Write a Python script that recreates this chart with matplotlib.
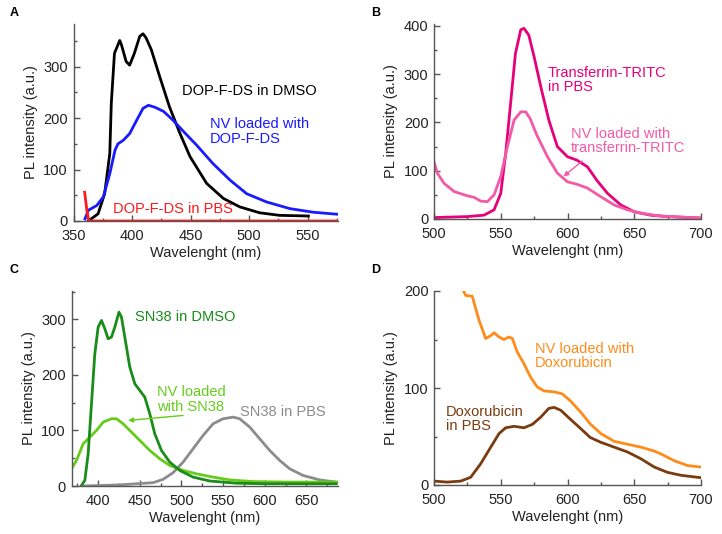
import matplotlib
matplotlib.use("Agg")
import matplotlib.pyplot as plt
from matplotlib.ticker import MultipleLocator

plt.rcParams['font.family'] = ['Liberation Sans', 'DejaVu Sans']
plt.rcParams['font.size'] = 10

# ---------------- Panel A ----------------
a_dmso_x = [362.7, 371, 376.6, 381, 382.3, 385, 389.5, 390.9, 395, 398, 402, 406.6, 409.4, 412,
            416.5, 423.6, 432, 441, 449.6, 463.8, 478, 492, 509, 526, 550.7]
a_dmso_y = [0, 14, 53, 131, 229, 326, 351, 343, 310, 303, 326, 359, 364, 356,
            333, 281, 222, 170, 125, 73, 44, 27.5, 16, 11, 9.7]
a_nv_x = [359.8, 362.7, 369.8, 375.5, 381, 385.5, 388, 392.6, 398, 404, 409.4, 414, 419.7, 427,
          435, 444, 455, 469, 484, 498, 515, 535, 555, 576]
a_nv_y = [4, 21, 30, 47, 92, 138, 150, 157, 170, 196, 219, 225, 221, 213,
          196, 174, 148, 112, 79, 53, 37, 24, 17, 13]
a_pbs_x = [359.5, 361.5, 363, 400, 450, 500, 550, 576]
a_pbs_y = [56, 20, 0, 0, 0, 0, 0, 0]

# ---------------- Panel B ----------------
b_pbs_x = [500, 525, 537.5, 545, 550, 553.7, 557.4, 561, 565, 567.4, 571, 575, 580, 586, 592.4,
           600, 607, 615, 622, 630, 640, 650, 662, 675, 700]
b_pbs_y = [3, 5, 8, 19, 53, 136, 240, 343, 392, 395, 381, 336, 274, 205, 150,
           129, 122, 108, 80, 53, 29, 15, 8, 5, 2]
b_nv_x = [500, 502.5, 507.5, 515, 525, 530, 535, 540, 545, 550, 555, 560, 565, 568.7, 572, 577,
          585, 592.4, 600, 607, 615, 625, 635, 645, 655, 670, 700]
b_nv_y = [119, 95, 74, 57, 48, 45, 37, 36, 50, 88, 150, 205, 222, 222, 208, 174,
          129, 95, 77, 72, 64, 46, 29, 19, 12, 6, 2]

# ---------------- Panel C ----------------
c_dmso_x = [380, 384, 388, 392, 396, 400, 404, 408, 412, 416, 420, 425, 428, 432, 438, 444, 450,
            456, 462, 468, 476, 486, 498, 514, 534, 566, 606, 686]
c_dmso_y = [1, 10, 58, 148, 238, 286, 298, 283, 265, 268, 286, 313, 304, 268, 214, 184, 172,
            160, 130, 94, 64, 43, 28, 16, 9, 5, 4, 4]
c_nv_x = [368, 374, 382, 390, 398, 406, 416, 422, 430, 438, 450, 462, 474, 486, 502, 518, 538,
          558, 586, 626, 686]
c_nv_y = [31, 46, 76, 88, 100, 115, 121, 121, 112, 100, 82, 64, 49, 37, 28, 22, 16,
          11, 8, 7, 7]
c_pbs_x = [382, 426, 466, 478, 490, 502, 514, 526, 538, 550, 562, 570, 582, 594, 606, 618, 630,
           646, 666, 686]
c_pbs_y = [0, 2, 6, 12, 24, 43, 67, 91, 112, 121, 124, 121, 106, 85, 64, 46, 31,
           19, 11, 7]

# ---------------- Panel D ----------------
d_nv_x = [521.5, 523.7, 528.7, 531, 533.7, 538.7, 542.5, 545, 548.7, 552.4, 556, 558.7, 562.4,
          567.4, 572.4, 577.4, 582.4, 590, 596, 602, 610, 617, 625, 635, 645, 655, 665, 670,
          680, 690, 700]
d_nv_y = [202, 195.5, 194.5, 183, 170, 151, 154, 157, 152.6, 150, 152.6, 151, 137,
          125, 111, 101, 97, 96, 94, 87, 75, 63, 53, 45, 42, 39, 35, 32,
          25, 20, 18.5]
d_pbs_x = [500, 510, 520, 527.5, 535, 542.5, 548.7, 553.7, 560, 567.4, 573.7, 580, 586, 590, 595,
           602, 610, 617, 625, 635, 645, 655, 665, 675, 685, 700]
d_pbs_y = [4, 3, 4, 8, 22, 39, 53, 59, 60.5, 59, 62.5, 70, 79, 80, 77,
           68, 58, 49, 44, 39, 34, 27, 18.5, 13, 10, 7.5]

col_black = '#000000'
col_blue = '#1a1aff'
col_red = '#ff1a1a'
col_pink_dark = '#e8007a'
col_pink_light = '#f25aa8'
col_green_dark = '#1a8c1a'
col_green_light = '#66cc1a'
col_gray = '#8c8c8c'
col_orange = '#ff8c1a'
col_brown = '#7a3c0e'

fig = plt.figure(figsize=(7.22, 5.34), dpi=100)
W, H = 722, 534


def make_ax(l, t, r, b):
    ax = fig.add_axes([l / W, 1 - b / H, (r - l) / W, (b - t) / H])
    for s in ['top', 'right']:
        ax.spines[s].set_visible(False)
    for s in ['left', 'bottom']:
        ax.spines[s].set_color('#555555')
        ax.spines[s].set_linewidth(1.0)
    ax.tick_params(which='both', direction='in', colors='#555555', labelcolor='#222222',
                   labelsize=10.5)
    ax.tick_params(which='major', length=4, width=1)
    ax.tick_params(which='minor', length=2.5, width=1)
    ax.tick_params(axis='x', which='major', pad=6)
    ax.tick_params(axis='y', which='major', pad=4)
    ax.set_xlabel('Wavelenght (nm)', fontsize=10.5, color='#222222', labelpad=2)
    ax.set_ylabel('PL intensity (a.u.)', fontsize=10.5, color='#222222', labelpad=4)
    return ax


lw = 2.0

# A
axA = make_ax(73.5, 24, 338, 221)
axA.plot(a_dmso_x, a_dmso_y, color=col_black, lw=lw)
axA.plot(a_nv_x, a_nv_y, color=col_blue, lw=lw)
axA.plot(a_pbs_x, a_pbs_y, color=col_red, lw=lw)
axA.set_xlim(350, 576)
axA.set_ylim(0, 383)
axA.xaxis.set_major_locator(MultipleLocator(50))
axA.xaxis.set_minor_locator(MultipleLocator(25))
axA.yaxis.set_major_locator(MultipleLocator(100))
axA.yaxis.set_minor_locator(MultipleLocator(50))
axA.text(442.5, 253, 'DOP-F-DS in DMSO', color=col_black, va='center', ha='left', fontsize=10.5)
axA.text(466.7, 173.5, 'NV loaded with\nDOP-F-DS', color=col_blue, va='center', ha='left',
         fontsize=10.5, linespacing=1.05)
axA.text(384, 23, 'DOP-F-DS in PBS', color=col_red, va='center', ha='left', fontsize=10.5)

# B
axB = make_ax(434, 24, 701, 219)
axB.plot(b_pbs_x, b_pbs_y, color=col_pink_dark, lw=lw)
axB.plot(b_nv_x, b_nv_y, color=col_pink_light, lw=lw)
axB.set_xlim(500, 700)
axB.set_ylim(0, 404)
axB.xaxis.set_major_locator(MultipleLocator(50))
axB.xaxis.set_minor_locator(MultipleLocator(25))
axB.yaxis.set_major_locator(MultipleLocator(100))
axB.yaxis.set_minor_locator(MultipleLocator(50))
axB.text(585.4, 288, 'Transferrin-TRITC\nin PBS', color=col_pink_dark, va='center', ha='left',
         fontsize=10.5, linespacing=1.05)
axB.text(602.6, 162, 'NV loaded with\ntransferrin-TRITC', color=col_pink_light, va='center',
         ha='left', fontsize=10.5, linespacing=1.05)
axB.annotate('', xy=(597, 88), xytext=(611, 120),
             arrowprops=dict(arrowstyle='-|>', color=col_pink_light, lw=1.0,
                             mutation_scale=7, shrinkA=0, shrinkB=0))

# C
axC = make_ax(71.5, 291, 338, 486)
axC.plot(c_pbs_x, c_pbs_y, color=col_gray, lw=lw)
axC.plot(c_nv_x, c_nv_y, color=col_green_light, lw=lw)
axC.plot(c_dmso_x, c_dmso_y, color=col_green_dark, lw=lw)
axC.set_xlim(368, 688)
axC.set_ylim(0, 351)
axC.xaxis.set_major_locator(MultipleLocator(50))
axC.xaxis.set_minor_locator(MultipleLocator(25))
axC.yaxis.set_major_locator(MultipleLocator(100))
axC.yaxis.set_minor_locator(MultipleLocator(50))
axC.text(444, 304, 'SN38 in DMSO', color=col_green_dark, va='center', ha='left', fontsize=10.5)
axC.text(470.8, 155.6, 'NV loaded\nwith SN38', color=col_green_light, va='center', ha='left',
         fontsize=10.5, linespacing=1.05)
axC.text(570, 133, 'SN38 in PBS', color=col_gray, va='center', ha='left', fontsize=10.5)
axC.annotate('', xy=(436, 118), xytext=(502, 127),
             arrowprops=dict(arrowstyle='-|>', color=col_green_light, lw=1.0,
                             mutation_scale=7, shrinkA=0, shrinkB=0))

# D
axD = make_ax(434, 291, 701, 485)
axD.plot(d_pbs_x, d_pbs_y, color=col_brown, lw=lw)
axD.plot(d_nv_x, d_nv_y, color=col_orange, lw=lw)
axD.set_xlim(500, 700)
axD.set_ylim(0, 200)
axD.xaxis.set_major_locator(MultipleLocator(50))
axD.xaxis.set_minor_locator(MultipleLocator(25))
axD.yaxis.set_major_locator(MultipleLocator(100))
axD.yaxis.set_minor_locator(MultipleLocator(50))
axD.text(575.6, 133, 'NV loaded with\nDoxorubicin', color=col_orange, va='center', ha='left',
         fontsize=10.5, linespacing=1.05)
axD.text(509, 68, 'Doxorubicin\nin PBS', color=col_brown, va='center', ha='left',
         fontsize=10.5, linespacing=1.05)

# panel letters
for lab, (x, y) in {'A': (10, 13), 'B': (371, 13), 'C': (10, 270), 'D': (371, 270)}.items():
    fig.text(x / W, 1 - y / H, lab, fontsize=9, fontweight='bold', va='center', ha='left')

fig.savefig('out.png', dpi=100)
